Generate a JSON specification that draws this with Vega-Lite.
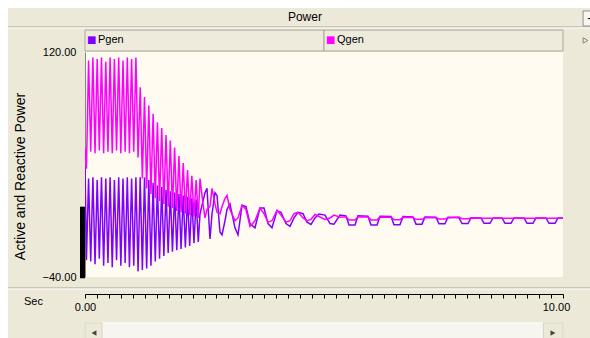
{
  "$schema": "https://vega.github.io/schema/vega-lite/v6.json",
  "width": 478,
  "height": 225,
  "autosize": {"type": "none"},
  "padding": {"left": 85, "top": 52, "right": 27, "bottom": 61},
  "background": "#ECE9D8",
  "config": {
    "view": {"stroke": null, "fill": "#FFFBF0"},
    "font": "Liberation Sans",
    "text": {"font": "Liberation Sans"}
  },
  "datasets": {
    "power": [
      {"t": 0, "Pgen": 40, "Qgen": 52},
      {"t": 0.03, "Pgen": -28, "Qgen": 37},
      {"t": 0.075, "Pgen": 30, "Qgen": 114},
      {"t": 0.12, "Pgen": -29, "Qgen": 49},
      {"t": 0.165, "Pgen": 31, "Qgen": 116},
      {"t": 0.21, "Pgen": -31, "Qgen": 48},
      {"t": 0.255, "Pgen": 29, "Qgen": 115},
      {"t": 0.3, "Pgen": -27, "Qgen": 50},
      {"t": 0.345, "Pgen": 31, "Qgen": 116},
      {"t": 0.39, "Pgen": -32, "Qgen": 48},
      {"t": 0.435, "Pgen": 30, "Qgen": 113},
      {"t": 0.48, "Pgen": -30, "Qgen": 49},
      {"t": 0.525, "Pgen": 31, "Qgen": 116},
      {"t": 0.57, "Pgen": -33, "Qgen": 48},
      {"t": 0.615, "Pgen": 29, "Qgen": 115},
      {"t": 0.66, "Pgen": -28, "Qgen": 50},
      {"t": 0.705, "Pgen": 31, "Qgen": 116},
      {"t": 0.75, "Pgen": -32, "Qgen": 48},
      {"t": 0.795, "Pgen": 30, "Qgen": 114},
      {"t": 0.84, "Pgen": -30, "Qgen": 49},
      {"t": 0.885, "Pgen": 31, "Qgen": 116},
      {"t": 0.93, "Pgen": -33, "Qgen": 48},
      {"t": 0.975, "Pgen": 30, "Qgen": 115},
      {"t": 1.02, "Pgen": -32, "Qgen": 49},
      {"t": 1.065, "Pgen": 31, "Qgen": 116},
      {"t": 1.11, "Pgen": -36, "Qgen": 45},
      {"t": 1.155, "Pgen": 31, "Qgen": 95},
      {"t": 1.2, "Pgen": -35, "Qgen": 30},
      {"t": 1.245, "Pgen": 31, "Qgen": 88},
      {"t": 1.29, "Pgen": -34, "Qgen": 23},
      {"t": 1.335, "Pgen": 29, "Qgen": 82},
      {"t": 1.38, "Pgen": -32, "Qgen": 19},
      {"t": 1.425, "Pgen": 27, "Qgen": 76},
      {"t": 1.47, "Pgen": -29, "Qgen": 16},
      {"t": 1.515, "Pgen": 25, "Qgen": 70},
      {"t": 1.56, "Pgen": -27, "Qgen": 14},
      {"t": 1.605, "Pgen": 24, "Qgen": 66},
      {"t": 1.65, "Pgen": -25, "Qgen": 12},
      {"t": 1.695, "Pgen": 22, "Qgen": 61},
      {"t": 1.74, "Pgen": -23, "Qgen": 10},
      {"t": 1.785, "Pgen": 21, "Qgen": 57},
      {"t": 1.83, "Pgen": -22, "Qgen": 9},
      {"t": 1.875, "Pgen": 20, "Qgen": 52},
      {"t": 1.92, "Pgen": -21, "Qgen": 7},
      {"t": 1.965, "Pgen": 19, "Qgen": 46},
      {"t": 2.01, "Pgen": -20, "Qgen": 6},
      {"t": 2.055, "Pgen": 18, "Qgen": 41},
      {"t": 2.1, "Pgen": -19, "Qgen": 5},
      {"t": 2.145, "Pgen": 17, "Qgen": 36},
      {"t": 2.19, "Pgen": -18, "Qgen": 4},
      {"t": 2.235, "Pgen": 16, "Qgen": 32},
      {"t": 2.28, "Pgen": -16, "Qgen": 3},
      {"t": 2.325, "Pgen": 15, "Qgen": 29},
      {"t": 2.37, "Pgen": -15, "Qgen": 2},
      {"t": 2.406, "Pgen": 5, "Qgen": 30},
      {"t": 2.469, "Pgen": 14, "Qgen": 12},
      {"t": 2.51, "Pgen": 20, "Qgen": 2},
      {"t": 2.552, "Pgen": 23, "Qgen": 8},
      {"t": 2.615, "Pgen": -13, "Qgen": 10},
      {"t": 2.657, "Pgen": 5, "Qgen": 23},
      {"t": 2.72, "Pgen": 20, "Qgen": 12},
      {"t": 2.762, "Pgen": 18, "Qgen": 6},
      {"t": 2.824, "Pgen": -8, "Qgen": 5},
      {"t": 2.866, "Pgen": -10, "Qgen": 10},
      {"t": 2.929, "Pgen": 0, "Qgen": 16},
      {"t": 2.971, "Pgen": 8, "Qgen": 18},
      {"t": 3.033, "Pgen": 12, "Qgen": 8},
      {"t": 3.138, "Pgen": -5, "Qgen": 0},
      {"t": 3.201, "Pgen": -10, "Qgen": 2},
      {"t": 3.285, "Pgen": 11, "Qgen": 11},
      {"t": 3.368, "Pgen": 10, "Qgen": 8},
      {"t": 3.452, "Pgen": -2, "Qgen": -4},
      {"t": 3.556, "Pgen": -5, "Qgen": 0},
      {"t": 3.661, "Pgen": 9, "Qgen": 9},
      {"t": 3.745, "Pgen": 9, "Qgen": 5},
      {"t": 3.828, "Pgen": -2, "Qgen": -1},
      {"t": 3.912, "Pgen": -5, "Qgen": 0},
      {"t": 4.017, "Pgen": 7, "Qgen": 7.5},
      {"t": 4.1, "Pgen": 6, "Qgen": 4},
      {"t": 4.205, "Pgen": -2, "Qgen": -1},
      {"t": 4.289, "Pgen": -4, "Qgen": 0},
      {"t": 4.372, "Pgen": 2, "Qgen": 5},
      {"t": 4.456, "Pgen": 6, "Qgen": 6},
      {"t": 4.561, "Pgen": 5, "Qgen": 2},
      {"t": 4.644, "Pgen": -1, "Qgen": 0},
      {"t": 4.728, "Pgen": -2.6, "Qgen": 1},
      {"t": 4.812, "Pgen": 2, "Qgen": 4.5},
      {"t": 4.895, "Pgen": 4.8, "Qgen": 3},
      {"t": 5.021, "Pgen": 4, "Qgen": 1},
      {"t": 5.126, "Pgen": -2, "Qgen": 2},
      {"t": 5.209, "Pgen": -2.5, "Qgen": 4},
      {"t": 5.335, "Pgen": 4, "Qgen": 2.5},
      {"t": 5.46, "Pgen": 3.5, "Qgen": 2.8},
      {"t": 5.523, "Pgen": -3, "Qgen": 0.5},
      {"t": 5.649, "Pgen": -3, "Qgen": 0.5},
      {"t": 5.711, "Pgen": 3.5, "Qgen": 2.8},
      {"t": 5.921, "Pgen": 3.2, "Qgen": 2.6},
      {"t": 5.983, "Pgen": -3, "Qgen": 0.6},
      {"t": 6.109, "Pgen": -3, "Qgen": 0.6},
      {"t": 6.172, "Pgen": 3.2, "Qgen": 2.6},
      {"t": 6.402, "Pgen": 3, "Qgen": 2.5},
      {"t": 6.464, "Pgen": -2.8, "Qgen": 0.8},
      {"t": 6.59, "Pgen": -2.8, "Qgen": 0.8},
      {"t": 6.653, "Pgen": 3, "Qgen": 2.5},
      {"t": 6.862, "Pgen": 2.7, "Qgen": 2.3},
      {"t": 6.925, "Pgen": -2.4, "Qgen": 1},
      {"t": 7.05, "Pgen": -2.4, "Qgen": 1},
      {"t": 7.113, "Pgen": 2.7, "Qgen": 2.3},
      {"t": 7.343, "Pgen": 2.5, "Qgen": 2.1},
      {"t": 7.406, "Pgen": -2.2, "Qgen": 1.2},
      {"t": 7.531, "Pgen": -2.2, "Qgen": 1.2},
      {"t": 7.594, "Pgen": 2.5, "Qgen": 2.1},
      {"t": 7.824, "Pgen": 2.2, "Qgen": 2.6},
      {"t": 7.887, "Pgen": -2, "Qgen": 1.5},
      {"t": 8.013, "Pgen": -2, "Qgen": 1.5},
      {"t": 8.075, "Pgen": 2.2, "Qgen": 1.9},
      {"t": 8.285, "Pgen": 2, "Qgen": 1.8},
      {"t": 8.347, "Pgen": -1.8, "Qgen": 1.8},
      {"t": 8.473, "Pgen": -1.8, "Qgen": 1.8},
      {"t": 8.536, "Pgen": 2, "Qgen": 1.8},
      {"t": 8.724, "Pgen": 2, "Qgen": 1.8},
      {"t": 8.787, "Pgen": -1.8, "Qgen": 1.8},
      {"t": 8.912, "Pgen": -1.8, "Qgen": 1.8},
      {"t": 8.975, "Pgen": 2, "Qgen": 1.8},
      {"t": 9.184, "Pgen": 2, "Qgen": 1.8},
      {"t": 9.247, "Pgen": -1.8, "Qgen": 1.8},
      {"t": 9.372, "Pgen": -1.8, "Qgen": 1.8},
      {"t": 9.435, "Pgen": 2, "Qgen": 1.8},
      {"t": 9.644, "Pgen": 2, "Qgen": 1.8},
      {"t": 9.707, "Pgen": -1.8, "Qgen": 1.8},
      {"t": 9.833, "Pgen": -1.8, "Qgen": 1.8},
      {"t": 9.895, "Pgen": 2, "Qgen": 1.8},
      {"t": 10, "Pgen": 2, "Qgen": 1.8}
    ],
    "cells": [
      {"series": "Pgen", "start": 0, "end": 5},
      {"series": "Qgen", "start": 5, "end": 10}
    ]
  },
  "layer": [
    {
      "data": {"values": [{}]},
      "mark": {"type": "rect", "color": "white"},
      "encoding": {
        "x": {"datum": -1.8, "type": "quantitative"}, "x2": {"datum": 10.7},
        "y": {"datum": 158, "type": "quantitative"}, "y2": {"datum": 151.3}
      }
    },
    {
      "data": {"values": [{}]},
      "mark": {"type": "rect", "color": "white"},
      "encoding": {
        "x": {"datum": -1.8, "type": "quantitative"}, "x2": {"datum": -1.611},
        "y": {"datum": 158, "type": "quantitative"}, "y2": {"datum": -85}
      }
    },
    {
      "data": {"values": [{}]},
      "mark": {"type": "rule", "color": "#ACA899"},
      "encoding": {
        "x": {"datum": -1.611, "type": "quantitative"}, "x2": {"datum": 10.7},
        "y": {"datum": 137.8, "type": "quantitative"}
      }
    },
    {
      "data": {"values": [{}]},
      "mark": {"type": "rule", "color": "white"},
      "encoding": {
        "x": {"datum": -1.611, "type": "quantitative"}, "x2": {"datum": 10.7},
        "y": {"datum": 137.1, "type": "quantitative"}
      }
    },
    {
      "data": {"values": [{}]},
      "mark": {"type": "text", "text": "Power", "fontSize": 12, "align": "center", "baseline": "middle", "color": "black"},
      "encoding": {
        "x": {"datum": 4.6, "type": "quantitative"},
        "y": {"datum": 144.9, "type": "quantitative"}
      }
    },
    {
      "data": {"values": [{}]},
      "mark": {"type": "rect", "fill": "#F7F6F1", "stroke": "#8E8F8F"},
      "encoding": {
        "x": {"datum": 10.42, "type": "quantitative"}, "x2": {"datum": 10.8},
        "y": {"datum": 149.2, "type": "quantitative"}, "y2": {"datum": 138.5}
      }
    },
    {
      "data": {"values": [{}]},
      "mark": {"type": "text", "text": "-", "fontSize": 12, "align": "center", "baseline": "middle", "color": "black"},
      "encoding": {
        "x": {"datum": 10.55, "type": "quantitative"},
        "y": {"datum": 144.5, "type": "quantitative"}
      }
    },
    {
      "data": {"name": "cells"},
      "mark": {"type": "rect", "fill": "#EEEBDD", "stroke": "#A9A797", "strokeWidth": 1},
      "encoding": {
        "x": {"field": "start", "type": "quantitative"}, "x2": {"field": "end"},
        "y": {"datum": 120.7, "type": "quantitative"}, "y2": {"datum": 135.6}
      }
    },
    {
      "data": {"name": "cells"},
      "mark": {"type": "text", "text": "■", "font": "DejaVu Sans", "fontSize": 10, "align": "left", "baseline": "middle", "dx": 2},
      "encoding": {
        "x": {"field": "start", "type": "quantitative"},
        "y": {"datum": 128.4, "type": "quantitative"},
        "color": {"field": "series", "type": "nominal", "legend": null}
      }
    },
    {
      "data": {"name": "cells"},
      "mark": {"type": "text", "fontSize": 11, "align": "left", "baseline": "middle", "dx": 13, "color": "black"},
      "encoding": {
        "x": {"field": "start", "type": "quantitative"},
        "y": {"datum": 128.2, "type": "quantitative"},
        "text": {"field": "series"}
      }
    },
    {
      "data": {"values": [{}]},
      "mark": {"type": "point", "shape": "triangle-right", "size": 28, "filled": true, "fill": "#F2F1EA", "stroke": "#555555", "strokeWidth": 1},
      "encoding": {
        "x": {"datum": 10.47, "type": "quantitative"},
        "y": {"datum": 128.2, "type": "quantitative"}
      }
    },
    {
      "data": {"values": [{}]},
      "mark": {"type": "rect", "color": "black"},
      "encoding": {
        "x": {"datum": -0.105, "type": "quantitative"}, "x2": {"datum": 0},
        "y": {"datum": -40.9, "type": "quantitative"}, "y2": {"datum": 10}
      }
    },
    {
      "data": {"values": [{}]},
      "mark": {"type": "rule", "color": "#ACA899"},
      "encoding": {
        "x": {"datum": -1.611, "type": "quantitative"}, "x2": {"datum": 10.7},
        "y": {"datum": -47.8, "type": "quantitative"}
      }
    },
    {
      "data": {"values": [{}]},
      "mark": {"type": "rule", "color": "white"},
      "encoding": {
        "x": {"datum": -1.611, "type": "quantitative"}, "x2": {"datum": 10.7},
        "y": {"datum": -48.5, "type": "quantitative"}
      }
    },
    {
      "data": {"values": [{}]},
      "mark": {"type": "rect", "fill": "#F6F5EF", "stroke": "#FFFFFF"},
      "encoding": {
        "x": {"datum": 0, "type": "quantitative"}, "x2": {"datum": 10},
        "y": {"datum": -72.7, "type": "quantitative"}, "y2": {"datum": -86}
      }
    },
    {
      "data": {"values": [{}]},
      "mark": {"type": "rect", "fill": "#ECE9D8", "stroke": "#D6D3C4"},
      "encoding": {
        "x": {"datum": 0, "type": "quantitative"}, "x2": {"datum": 0.356},
        "y": {"datum": -72.7, "type": "quantitative"}, "y2": {"datum": -86}
      }
    },
    {
      "data": {"values": [{}]},
      "mark": {"type": "rect", "fill": "#ECE9D8", "stroke": "#D6D3C4"},
      "encoding": {
        "x": {"datum": 9.59, "type": "quantitative"}, "x2": {"datum": 10},
        "y": {"datum": -72.7, "type": "quantitative"}, "y2": {"datum": -86}
      }
    },
    {
      "data": {"values": [{}]},
      "mark": {"type": "point", "shape": "triangle-left", "size": 32, "filled": true, "color": "black"},
      "encoding": {
        "x": {"datum": 0.188, "type": "quantitative"},
        "y": {"datum": -79.8, "type": "quantitative"}
      }
    },
    {
      "data": {"values": [{}]},
      "mark": {"type": "point", "shape": "triangle-right", "size": 32, "filled": true, "color": "black"},
      "encoding": {
        "x": {"datum": 9.79, "type": "quantitative"},
        "y": {"datum": -79.8, "type": "quantitative"}
      }
    },
    {
      "data": {"name": "power"},
      "transform": [{"fold": ["Pgen", "Qgen"], "as": ["series", "value"]}],
      "mark": {"type": "line", "strokeWidth": 1.5, "clip": true},
      "encoding": {
        "x": {
          "field": "t", "type": "quantitative",
          "scale": {"domain": [0, 10], "nice": false, "zero": false},
          "axis": {
            "title": "Sec", "offset": 17, "grid": false, "ticks": true, "zindex": 1, "tickCount": 100,
            "values": [0, 0.25, 0.5, 0.75, 1, 1.25, 1.5, 1.75, 2, 2.25, 2.5, 2.75, 3, 3.25, 3.5, 3.75, 4, 4.25, 4.5, 4.75, 5, 5.25, 5.5, 5.75, 6, 6.25, 6.5, 6.75, 7, 7.25, 7.5, 7.75, 8, 8.25, 8.5, 8.75, 9, 9.25, 9.5, 9.75, 10],
            "labelExpr": "datum.value == 0 || datum.value == 10 ? format(datum.value, '.2f') : ''",
            "labelFlush": false, "labelOverlap": false,
            "labelOffset": {"condition": {"test": "datum.value == 10", "value": -7}, "value": 0},
            "domainColor": "black", "tickColor": "black", "tickSize": 4, "tickWidth": 1, "tickOpacity": 1,
            "labelFontSize": 11, "labelColor": "black", "labelPadding": 3,
            "titleX": -52, "titleY": 7.5, "titleAlign": "center", "titleBaseline": "middle",
            "titleFontWeight": "normal", "titleFontSize": 11, "titleColor": "black"
          }
        },
        "y": {
          "field": "value", "type": "quantitative",
          "scale": {"domain": [-40, 120], "nice": false, "zero": false},
          "axis": {
            "title": "Active and Reactive Power", "values": [-40, 120], "format": ".2f",
            "ticks": false, "grid": false, "labelPadding": 9, "labelFlush": false,
            "domainColor": "#8A877A", "labelFontSize": 11, "labelColor": "black",
            "titleFontSize": 14, "titleFontWeight": "normal", "titleColor": "black",
            "titleX": -65, "titleY": 124, "titleAngle": -90, "titleAlign": "center", "titleBaseline": "middle"
          }
        },
        "color": {
          "field": "series", "type": "nominal",
          "scale": {"domain": ["Pgen", "Qgen"], "range": ["#8000FF", "#FF00FF"]},
          "legend": null
        }
      }
    }
  ]
}
